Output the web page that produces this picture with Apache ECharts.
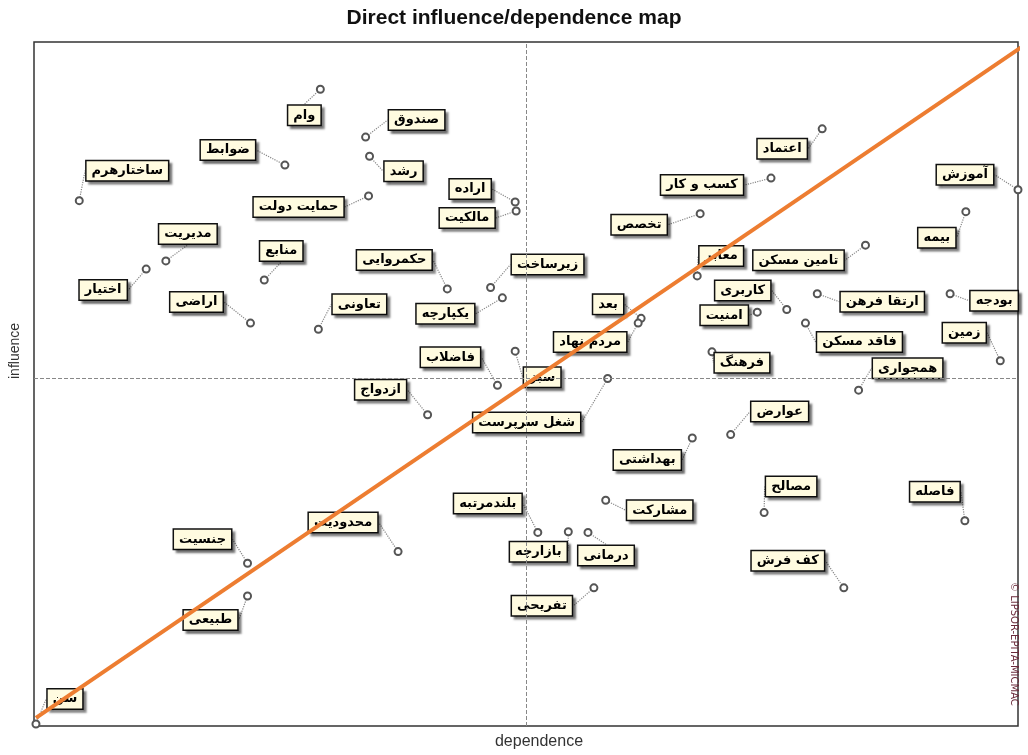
<!DOCTYPE html>
<html>
<head>
<meta charset="utf-8">
<script src="https://cdn.jsdelivr.net/npm/echarts@6/dist/echarts.min.js"></script>
<style>
  html, body { margin: 0; padding: 0; background: #fff; }
  #main { width: 1028px; height: 755px; }
</style>
</head>
<body>
<div id="main"></div>
<script>
    // variables of the map
    var names = ['وام', 'صندوق', 'ضوابط', 'رشد', 'ساختارهرم', 'اعتماد', 'آموزش', 'اراده', 'حمایت دولت', 'مالکیت',
        'کسب و کار', 'تخصص', 'بیمه', 'مدیریت', 'منابع', 'حکمروایی', 'زیرساخت', 'معابر', 'تامین مسکن', 'کاربری',
        'ارتقا فرهن', 'بودجه', 'اختیار', 'اراضی', 'تعاونی', 'یکپارچه', 'بعد', 'مردم نهاد', 'امنیت', 'فاقد مسکن',
        'زمین', 'فرهنگ', 'همجواری', 'سبز', 'فاضلاب', 'ازدواج', 'شغل سرپرست', 'عوارض', 'بهداشتی', 'مصالح',
        'فاصله', 'مشارکت', 'بلندمرتبه', 'بازارچه', 'درمانی', 'کف فرش', 'تفریحی', 'جنسیت', 'محدودیت', 'طبیعی',
        'سن'];
    var dependence = [29.1, 33.7, 25.5, 34.1, 4.6, 80.1, 100, 48.9, 34.0, 49.0,
        74.9, 67.7, 94.7, 13.4, 23.4, 42.0, 46.4, 67.4, 84.5, 76.5,
        79.6, 93.1, 11.4, 22.0, 28.9, 47.6, 61.7, 61.4, 73.5, 78.4,
        98.2, 68.9, 83.8, 48.9, 47.1, 40.0, 58.3, 70.8, 66.9, 74.2,
        94.6, 58.1, 51.2, 54.3, 56.3, 82.3, 56.9, 21.7, 37.0, 21.7,
        0.2];
    var influence = [93.1, 86.1, 82.0, 83.3, 76.8, 87.3, 78.4, 76.6, 77.5, 75.3,
        80.1, 74.9, 75.2, 68.0, 65.2, 63.9, 64.1, 65.8, 70.3, 60.9,
        63.2, 63.2, 66.8, 58.9, 58.0, 62.6, 59.6, 58.9, 60.5, 58.9,
        53.4, 54.7, 49.1, 54.8, 49.8, 45.5, 50.8, 42.6, 42.1, 31.2,
        30.0, 33.0, 28.3, 28.4, 28.3, 20.2, 20.2, 23.8, 25.5, 19.0,
        0.3];
    var meanDependence = 50;
    var meanInfluence = 50.8;
    var diagonal = [[0.2, 1.2], [100.7, 99.6]];

    // where each label box sits relative to its point (px)
    var labelOffsets = [[-16, 26], [51, -17], [-57, -15], [34, 15], [48, -30], [-40, 20], [-53, -15], [-45, -13], [-70, 11], [-49, 7],
        [-69, 7], [-61, 11], [-29, 26], [22, -27], [17, -29], [-53, -29], [57, -23], [24, -20], [-67, 15], [-44, -19],
        [65, 8], [44, 7], [-43, 21], [-54, -21], [41, -25], [-57, 16], [-33, -14], [-48, 19], [-33, 3], [54, 19],
        [-36, -28], [30, 11], [49, -22], [27, 26], [-47, -28], [-47, -25], [-81, 44], [49, -23], [-45, 22], [27, -26],
        [-30, -29], [54, 10], [-50, -29], [-30, 20], [18, 23], [-56, -27], [-52, 18], [-45, -24], [-55, -29], [-37, 24],
        [29, -25]];

    var points = [];
    for (var i = 0; i < names.length; i++) {
        points.push({name: names[i], value: [dependence[i], influence[i]]});
    }

    var chart = echarts.init(document.getElementById('main')),
        option = {
            animation: false,
            title: {
                text: 'Direct influence/dependence map',
                left: 'center',
                top: 3,
                textStyle: {
                    fontFamily: 'Liberation Sans',
                    fontSize: 21,
                    fontWeight: 'bold',
                    color: '#111'
                }
            },
            grid: {
                left: 33,
                right: 10,
                top: 42,
                bottom: 20,
                show: true,
                borderColor: '#333',
                borderWidth: 1.5
            },
            xAxis: {
                type: 'value',
                min: 0,
                max: 100,
                name: 'dependence',
                nameLocation: 'middle',
                nameGap: 8,
                nameTextStyle: {fontFamily: 'Liberation Sans', fontSize: 16, color: '#333', padding: [0, 0, 0, 26]},
                axisLine: {show: false},
                axisTick: {show: false},
                axisLabel: {show: false},
                splitLine: {show: false}
            },
            yAxis: {
                type: 'value',
                min: 0,
                max: 100,
                name: 'influence',
                nameLocation: 'middle',
                nameGap: 12,
                nameTextStyle: {fontFamily: 'Liberation Sans', fontSize: 14, color: '#333', padding: [0, 0, 0, 66]},
                axisLine: {show: false},
                axisTick: {show: false},
                axisLabel: {show: false},
                splitLine: {show: false}
            },
            graphic: [{
                type: 'text',
                x: 1019,
                y: 582,
                rotation: -Math.PI / 2,
                style: {
                    text: '© LIPSOR-EPITA-MICMAC',
                    fill: '#6a2a3a',
                    font: '10px "DejaVu Sans"'
                }
            }],
            series: [
                {
                    type: 'scatter',
                    data: points,
                    symbol: 'circle',
                    symbolSize: 7,
                    itemStyle: {color: '#fff', borderColor: '#555', borderWidth: 2, opacity: 1},
                    label: {
                        show: true,
                        position: 'inside',
                        formatter: '{b}',
                        fontFamily: 'DejaVu Sans',
                        fontWeight: 'bold',
                        fontSize: 13,
                        color: '#000',
                        backgroundColor: '#fffbe0',
                        borderColor: '#111',
                        borderWidth: 1.5,
                        padding: [3, 5, 3, 5],
                        shadowColor: 'rgba(0,0,0,0.4)',
                        shadowOffsetX: 3,
                        shadowOffsetY: 3,
                        shadowBlur: 2
                    },
                    labelLayout: function (params) {
                        var o = labelOffsets[params.dataIndex];
                        return {dx: o[0], dy: o[1]};
                    },
                    labelLine: {
                        show: true,
                        lineStyle: {color: '#888', width: 1.2, type: 'dotted'}
                    },
                    markLine: {
                        silent: true,
                        symbol: 'none',
                        label: {show: false},
                        lineStyle: {color: '#888', type: 'dashed', width: 1},
                        data: [{xAxis: meanDependence}, {yAxis: meanInfluence}]
                    }
                },
                {
                    type: 'line',
                    data: diagonal,
                    z: 10,
                    clip: false,
                    symbol: 'none',
                    lineStyle: {color: '#ed7d31', width: 4}
                }
            ]
        };
    chart.setOption(option);
</script>
</body>
</html>
